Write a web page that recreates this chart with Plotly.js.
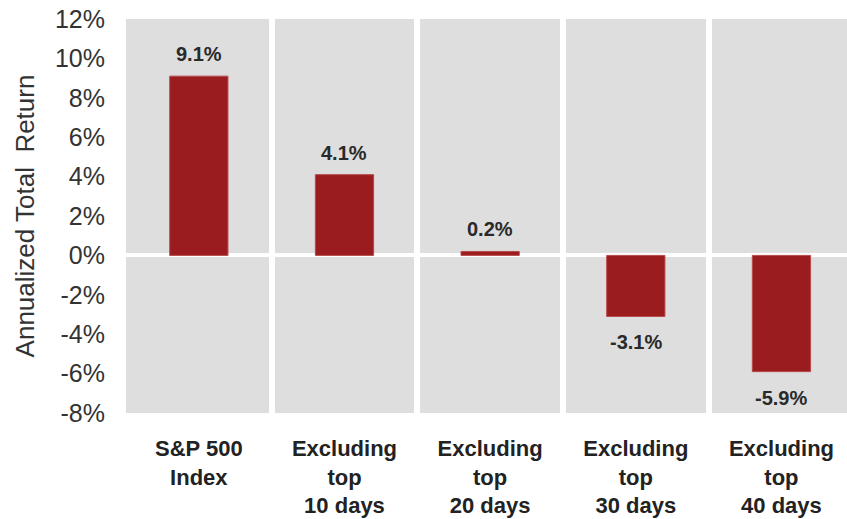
<!DOCTYPE html>
<html>
<head>
<meta charset="utf-8">
<script src="https://cdn.plot.ly/plotly-3.0.1.min.js"></script>
<style>
  html, body { margin: 0; padding: 0; background: #ffffff; overflow: hidden; }
  #chart { width: 847px; height: 519px; }
</style>
</head>
<body>
<div id="chart"></div>
<script>
// Data
var categories = [
  "S&P 500<br>Index",
  "Excluding<br>top<br>10 days",
  "Excluding<br>top<br>20 days",
  "Excluding<br>top<br>30 days",
  "Excluding<br>top<br>40 days"
];
var returns = [9.1, 4.1, 0.2, -3.1, -5.9];
var valueLabels = ["9.1%", "4.1%", "0.2%", "-3.1%", "-5.9%"];
var yTickVals = [-8, -6, -4, -2, 0, 2, 4, 6, 8, 10, 12];
var yTickText = ["-8%", "-6%", "-4%", "-2%", "0%", "2%", "4%", "6%", "8%", "10%", "12%"];

var trace = {
  type: "bar",
  x: categories,
  y: returns,
  width: 0.4,
  marker: { color: "#9b1c1f", line: { color: "#b84a4c", width: 1 } },
  hoverinfo: "none"
};

var annotations = returns.map(function (v, i) {
  return {
    x: categories[i],
    y: v,
    xref: "x",
    yref: "y",
    text: valueLabels[i],
    showarrow: false,
    yanchor: "middle",
    yshift: v >= 0 ? 22 : -26,
    font: { family: "Liberation Sans, Arial, sans-serif", size: 20, color: "#2a2a2a", weight: "bold" }
  };
});

var layout = {
  width: 847,
  height: 519,
  margin: { l: 126, r: 0, t: 19, b: 106, pad: 0 },
  paper_bgcolor: "#ffffff",
  plot_bgcolor: "#dedede",
  showlegend: false,
  font: { family: "Liberation Sans, Arial, sans-serif", color: "#333333" },
  xaxis: {
    type: "category",
    range: [-0.5, 4.45],
    tickson: "boundaries",
    showgrid: true,
    gridcolor: "#ffffff",
    gridwidth: 6,
    ticks: "",
    ticklabelstandoff: 20,
    showline: false,
    zeroline: false,
    tickfont: { family: "Liberation Sans, Arial, sans-serif", size: 22, color: "#222222", weight: "bold" },
    fixedrange: true
  },
  yaxis: {
    range: [-8, 12],
    tickvals: yTickVals,
    ticktext: yTickText,
    showgrid: false,
    zeroline: true,
    zerolinecolor: "#ffffff",
    zerolinewidth: 4,
    showline: false,
    ticks: "",
    ticklabelstandoff: 20,
    tickfont: { family: "Liberation Sans, Arial, sans-serif", size: 25, color: "#333333" },
    title: {
      text: "Annualized Total\u00a0 Return",
      font: { family: "Liberation Sans, Arial, sans-serif", size: 26, color: "#333333" },
      standoff: 12
    },
    fixedrange: true
  },
  annotations: annotations
};

Plotly.newPlot("chart", [trace], layout, { displayModeBar: false, staticPlot: true });
</script>
</body>
</html>
